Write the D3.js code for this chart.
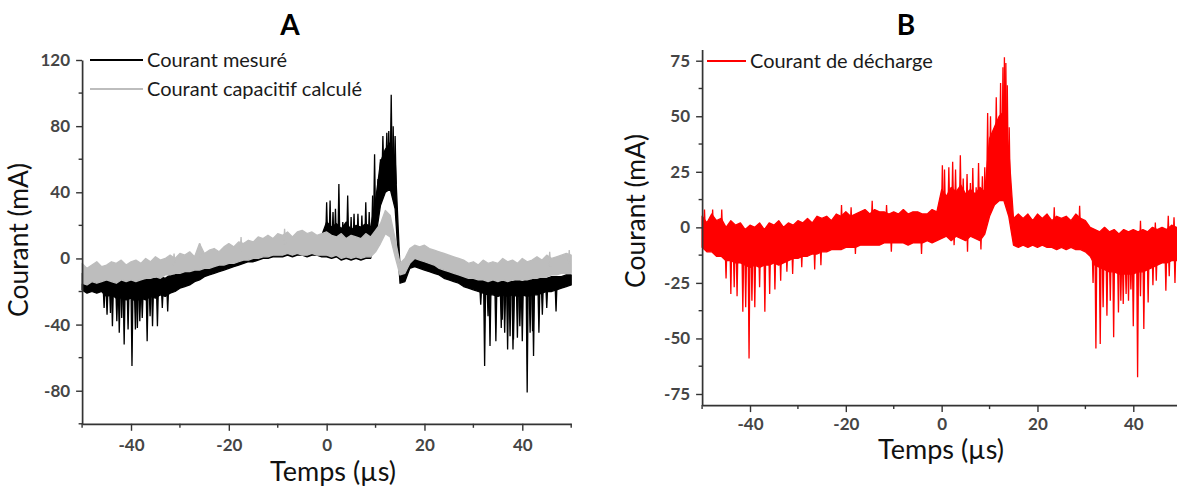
<!DOCTYPE html>
<html><head><meta charset="utf-8">
<script src="https://cdn.jsdelivr.net/npm/d3@7"></script>
<style>
body{margin:0;background:#fff}
svg{display:block}
text{font-family:Lato,"Open Sans","DejaVu Sans",sans-serif}
</style>
</head><body>
<svg id="chart" width="1177" height="488"></svg>
<script>
// ---------- DATA ----------
// sample times (µs), 1 µs grid
const times = d3.range(-50, 51, 1);

// Panel A : measured current (black) – band upper / lower envelope (mA)
const measHi = [
 -9,-11,-10,-12,-11,-13,-12,-14,-12,-13,
 -12,-13,-12,-13,-12,-12,-11,-12,-10,-10,
 -9,-8,-7,-6,-5,-4,-3,-2,-1,0,
 1,2,3,4,5,6,7,7,8,9,
 9,10,10,11,11,12,12,13,13,14,
 22,19,21,18,22,17,20,19,21,19,
 35,58,66,70,60,-6,-3,3,4,3,
 2,1,0,-1,-3,-4,-6,-7,-9,-10,
 -11,-12,-12,-13,-13,-13,-14,-13,-14,-13,
 -14,-13,-13,-12,-12,-12,-11,-11,-11,-10,-10];
const measLo = [
 -19,-21,-20,-21,-20,-23,-22,-24,-24,-25,
 -24,-26,-24,-25,-23,-24,-22,-23,-21,-20,
 -18,-17,-16,-14,-13,-11,-10,-9,-8,-7,
 -6,-5,-4,-3,-2,-2,-1,0,0,1,
 1,1,2,1,2,2,1,2,2,1,
 1,0,1,-1,0,-1,0,-1,0,0,
 12,32,40,42,30,-15,-14,-6,-5,-6,
 -7,-8,-9,-10,-12,-13,-14,-15,-17,-18,
 -19,-20,-21,-22,-22,-23,-22,-23,-22,-23,
 -22,-23,-22,-22,-21,-20,-20,-19,-18,-17,-16];
// spikes of the measured current: [time µs, peak mA]
const measSpikes = [
 [-45.5,-30],[-44.9,-34],[-44.2,-33],[-43.8,-41],[-42.9,-38],[-42.4,-45],[-41.9,-36],[-41.4,-52],
 [-40.6,-43],[-39.8,-65],[-39.1,-43],[-38.7,-42],[-38.2,-38],[-37.7,-36],[-36.7,-50],[-36.1,-35],
 [-35.6,-41],[-34.6,-41],[-33.6,-30],[-32.5,-32],
 [0.0,34],[0.7,35],[1.3,28],[1.8,30],[2.5,45],[3.3,22],[4.3,38],[5.0,25],[5.6,27],[6.4,27],
 [7.2,26],[8.0,34],[8.7,28],[9.4,38],[9.8,63],[10.5,48],[11.0,60],[11.5,74],[12.3,76],[12.7,77],
 [13.2,99],[13.6,80],[14.0,74],
 [31.5,-28],[32.3,-65],[33.0,-35],[33.4,-53],[34.6,-50],[35.7,-42],[35.9,-37],[36.4,-45],[37.0,-55],
 [37.5,-47],[38.1,-55],[38.2,-49],[39.0,-48],[39.5,-41],[40.0,-50],[41.0,-81],[41.6,-45],[42.1,-44],
 [42.3,-59],[43.4,-45],[44.1,-34],[45.0,-30],[46.9,-32]];

// Panel A : computed capacitive current (grey) – band envelope (mA)
const capHi = [
 -3,-6,-4,-2,-5,-4,-2,-3,-1,-4,
 -2,-1,-3,0,-2,1,-1,0,2,0,
 3,2,4,1,9,3,5,6,4,7,
 9,7,10,9,11,10,13,12,14,12,
 15,14,16,13,16,17,15,16,14,15,
 16,14,13,15,12,14,13,12,15,13,
 17,21,29,26,12,-3,0,6,8,7,
 8,6,5,4,3,2,1,0,-1,-3,
 -2,-4,-1,-3,-2,-3,0,-2,-1,-3,
 0,-2,-1,1,-1,2,0,1,2,3,2];
const capLo = [
 -15,-16,-14,-15,-14,-13,-14,-15,-13,-14,
 -13,-14,-13,-12,-12,-11,-12,-10,-10,-9,
 -9,-8,-8,-7,-7,-6,-6,-5,-4,-4,
 -3,-3,-2,-1,-1,0,0,1,1,2,
 2,2,3,2,3,2,2,3,2,2,
 2,1,2,0,1,0,1,0,1,1,
 4,9,15,13,1,-10,-9,-3,0,-1,
 -2,-3,-4,-6,-7,-8,-9,-10,-11,-12,
 -12,-13,-13,-14,-13,-14,-13,-14,-13,-13,
 -13,-13,-12,-12,-11,-11,-10,-10,-9,-9,-9];
const capSpikes = [[-25.9,9],[-31.2,3],[-17.5,13],[-8.6,18],[45.6,4],[49.6,5]];

// Panel B : discharge current (red) – band envelope (mA)
const dischHi = [
 5,2,6,3,4,0,3,1,2,-1,
 1,0,2,-1,2,1,3,0,2,1,
 3,2,4,2,5,4,5,3,6,5,
 7,5,6,7,8,6,8,7,7,6,
 7,6,8,6,7,7,6,6,8,7,
 17,14,18,16,19,15,17,15,18,16,
 40,45,50,52,35,4,6,4,6,3,
 6,4,6,3,5,4,5,3,6,4,
 3,0,-1,-2,0,-2,-1,-3,-1,-2,
 -1,-2,-1,-2,0,-1,0,-1,1,0,0];
const dischLo = [
 -9,-11,-11,-13,-13,-15,-15,-16,-16,-17,
 -18,-17,-18,-17,-17,-16,-17,-16,-15,-14,
 -14,-13,-13,-12,-12,-11,-11,-10,-10,-10,
 -9,-9,-9,-8,-8,-8,-8,-8,-7,-7,
 -7,-7,-7,-8,-7,-7,-7,-6,-7,-6,
 -5,-4,-6,-4,-5,-6,-4,-5,-6,-3,
 5,10,12,12,5,-8,-9,-8,-9,-8,
 -9,-8,-9,-9,-10,-9,-10,-9,-10,-10,
 -11,-13,-17,-18,-19,-20,-20,-21,-21,-21,
 -21,-20,-20,-19,-18,-17,-16,-16,-15,-15,-15];
const dischSpikes = [
 [-49.5,8],[-47.8,8],[-45.9,8],[-45.0,-23],[-44.0,-30],[-43.3,-27],[-42.7,-31],[-41.5,-38],
 [-40.9,-36],[-40.2,-59],[-39.6,-33],[-39.0,-36],[-38.0,-27],[-36.9,-38],[-35.9,-30],[-34.8,-28],
 [-33.6,-24],[-32.3,-20],[-31.1,-21],[-29.2,-18],[-26.5,-19],[-25.2,-17],
 [-20.9,10],[-18.9,9],[-18.0,-12],[-14.5,12],[-11.5,10],[-10.5,-11],[-4.2,-12],
 [0.15,28],[0.6,26],[1.5,27],[2.3,29.5],[2.6,-8],[2.9,26],[3.9,32.5],[4.5,22],[5.3,24],[5.4,-11],
 [6.0,20],[6.5,26.7],[7.2,18],[7.7,29],[8.2,-10],[8.5,23],[9.0,27],[9.6,51.5],[10.2,50],[10.8,42],
 [11.4,58.5],[12.0,48],[12.3,65],[12.8,72],[13.1,76.5],[13.4,74],[13.7,64],[14.1,45],
 [23.5,9],[28.8,9.7],
 [31.6,-25],[32.2,-54.5],[33.1,-52.5],[33.7,-36],[34.5,-39.8],[35.2,-33],[35.9,-49.5],[36.9,-38.3],
 [37.4,-33],[37.9,-34.5],[38.5,-30],[39.0,-33],[39.5,-28],[40.0,-44.5],[40.9,-67.5],[41.5,-31],
 [41.5,3],[42.2,-45.7],[43.1,-33.8],[44.1,-26],[44.6,2.2],[44.8,-24],[46.8,-28.5],[47.3,5.2],
 [47.5,-22],[48.5,4.5],[48.7,-25]];

// axis ticks & labels
const xMajor = [-40, -20, 0, 20, 40];
const xMinor = [-50, -30, -10, 10, 30, 50];
const yMajorA = [120, 80, 40, 0, -40, -80];
const yMinorA = [100, 60, 20, -20, -60, -100];
const yMajorB = [75, 50, 25, 0, -25, -50, -75];
const yMinorB = [62.5, 37.5, 12.5, -12.5, -37.5, -62.5];
const legendA = ["Courant mesuré", "Courant capacitif calculé"];
const legendB = ["Courant de décharge"];
const titles = ["A", "B"];
const xTitle = "Temps (µs)";
const yTitle = "Courant (mA)";

// ---------- DRAWING ----------
const svg = d3.select("#chart");
const AXIS = "#333";
const TICKTXT = "#454545";

function fitSize(text, target, weight, base) {
  const t = svg.append("text").attr("font-size", base).attr("font-weight", weight).text(text);
  const w = t.node().getComputedTextLength();
  t.remove();
  return base * target / w;
}

function interp(arr, t) {
  const i = Math.max(0, Math.min(times.length - 2, Math.floor(t - times[0])));
  const f = (t - times[i]) / (times[i + 1] - times[i]);
  return arr[i] + (arr[i + 1] - arr[i]) * f;
}

function drawSeries(g, x, y, hi, lo, spikes, color) {
  const area = d3.area()
    .x((d, i) => x(times[i]))
    .y0((d, i) => y(lo[i]))
    .y1((d, i) => y(hi[i]));
  g.append("path").datum(hi).attr("d", area)
    .attr("fill", color).attr("stroke", color).attr("stroke-width", 1.3)
    .attr("stroke-linejoin", "round");
  const line = d3.line();
  g.selectAll(null).data(spikes).enter().append("path")
    .attr("d", d => {
      const base = (interp(hi, d[0]) + interp(lo, d[0])) / 2;
      return line([[x(d[0] - 0.2), y(base)], [x(d[0]), y(d[1])], [x(d[0] + 0.2), y(base)]]);
    })
    .attr("fill", color).attr("stroke", color).attr("stroke-width", 1.3)
    .attr("stroke-linejoin", "miter");
}

function drawAxes(x, y, yMaj, yMin, xPad) {
  const fmt = d => String(d);
  const gx = svg.append("g").attr("transform", `translate(0,${y.range()[0]})`);
  gx.call(d3.axisBottom(x).tickValues(xMajor).tickFormat(fmt).tickSize(7).tickPadding(xPad).tickSizeOuter(0));
  gx.selectAll(null).data(xMinor).enter().append("line")
    .attr("x1", d => x(d)).attr("x2", d => x(d)).attr("y1", 0).attr("y2", 4)
    .attr("stroke", AXIS).attr("stroke-width", 1.4);
  const gy = svg.append("g").attr("transform", `translate(${x.range()[0]},0)`);
  gy.call(d3.axisLeft(y).tickValues(yMaj).tickFormat(fmt).tickSize(6).tickPadding(6).tickSizeOuter(0));
  gy.selectAll(null).data(yMin).enter().append("line")
    .attr("y1", d => y(d)).attr("y2", d => y(d)).attr("x1", 0).attr("x2", -3.5)
    .attr("stroke", AXIS).attr("stroke-width", 1.4);
  [gx, gy].forEach(g => {
    g.select(".domain").attr("stroke", AXIS).attr("stroke-width", 1.7);
    g.selectAll(".tick line").attr("stroke", AXIS).attr("stroke-width", 1.4);
    g.selectAll(".tick text").attr("font-family", "Lato,'Open Sans',sans-serif")
      .attr("font-size", 17).attr("font-weight", "bold").attr("fill", TICKTXT);
  });
}

// sizes fitted to the reference text widths
const legSize = fitSize(legendA[1], 215, "normal", 18);
const xTitleSize = fitSize(xTitle, 126, "normal", 22);
const yTitleSize = fitSize(yTitle, 154, "normal", 22);

// ---- Panel A ----
const xA = d3.scaleLinear().domain([-50, 50]).range([82.1, 571.2]);
const yA = d3.scaleLinear().domain([-100, 120]).range([423.8, 60]);
const gA = svg.append("g");
drawSeries(gA, xA, yA, measHi, measLo, measSpikes, "#000");
drawSeries(gA, xA, yA, capHi, capLo, capSpikes, "#bdbdbd");
drawAxes(xA, yA, yMajorA, yMinorA, 8);

// ---- Panel B ----
const xB = d3.scaleLinear().domain([-50, 50]).range([702.1, 1181.2]);
const yB = d3.scaleLinear().domain([-80, 80]).range([405.1, 49.6]);
const gB = svg.append("g");
drawSeries(gB, xB, yB, dischHi, dischLo, dischSpikes, "#ff0000");
drawAxes(xB, yB, yMajorB, yMinorB, 6);

// legends
const legA = svg.append("g");
[["#000", 60], ["#bdbdbd", 89]].forEach((c, i) => {
  legA.append("line").attr("x1", 90).attr("x2", 143).attr("y1", c[1]).attr("y2", c[1])
    .attr("stroke", c[0]).attr("stroke-width", 2);
  legA.append("text").attr("x", 147).attr("y", c[1]).attr("dy", "0.35em")
    .attr("font-size", legSize).attr("fill", "#1a1a1a").text(legendA[i]);
});
svg.append("line").attr("x1", 707).attr("x2", 746).attr("y1", 61).attr("y2", 61)
  .attr("stroke", "#ff0000").attr("stroke-width", 2);
svg.append("text").attr("x", 750).attr("y", 61).attr("dy", "0.35em")
  .attr("font-size", legSize).attr("fill", "#1a1a1a").text(legendB[0]);

// titles
[[290, titles[0]], [906, titles[1]]].forEach(d => {
  svg.append("text").attr("x", d[0]).attr("y", 35).attr("text-anchor", "middle")
    .attr("font-size", 28).attr("font-weight", "bold").attr("fill", "#000").text(d[1]);
});
// axis titles
[[333, 481], [941, 459]].forEach(d => {
  svg.append("text").attr("x", d[0]).attr("y", d[1]).attr("text-anchor", "middle")
    .attr("font-size", xTitleSize).attr("fill", "#111").text(xTitle);
});
[[28, 240], [645, 211]].forEach(d => {
  svg.append("text").attr("transform", `translate(${d[0]},${d[1]}) rotate(-90)`)
    .attr("text-anchor", "middle").attr("font-size", yTitleSize).attr("fill", "#111").text(yTitle);
});
</script>
</body></html>
